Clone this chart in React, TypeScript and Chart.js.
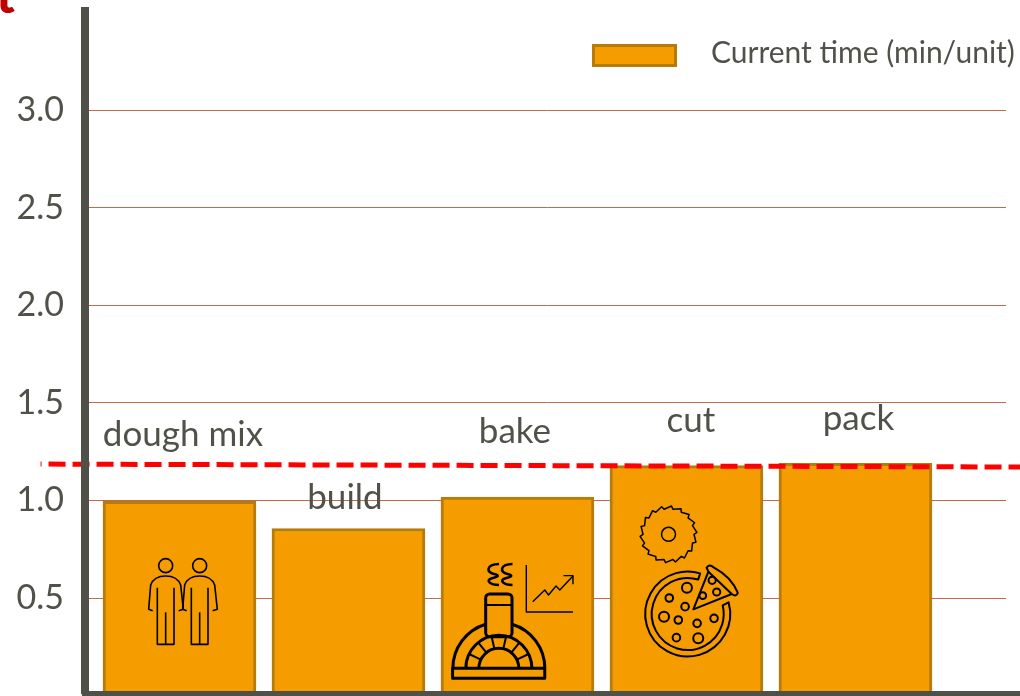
import React, { useEffect, useRef } from "react";
import { Chart, registerables } from "chart.js";

Chart.register(...registerables);

const categories = ["dough mix", "build", "bake", "cut", "pack"];
const currentTime = [0.995, 0.856, 1.017, 1.178, 1.19];
const yTickValues = [0.5, 1.0, 1.5, 2.0, 2.5, 3.0];
const taktLineX = [-0.822, 4.976];
const taktLineY = [1.186, 1.171];
const seriesLabel = "Current time (min/unit)";

const TEXT = "#50524a";
const AXIS = "#4f5047";
const GRID = "#c4684a";
const BAR = "#f59c00";
const BAR_EDGE = "#b67c0a";
const FONT = "Lato, 'Open Sans', sans-serif";
const labelNudges = [
  { dx: 3.5, dy: -67 },
  { dx: -3.5, dy: -31 },
  { dx: -2.5, dy: -65 },
  { dx: 4.5, dy: -45 },
  { dx: 3, dy: -45 },
];

// zoomed-crop coordinates for the second crop region → page pixels
const zx = (x: number) => 430 + x / 2.658;
const zy = (y: number) => 400 + y / 3;

function circle(ctx: CanvasRenderingContext2D, x: number, y: number, r: number) {
  ctx.beginPath();
  ctx.arc(x, y, r, 0, Math.PI * 2);
  ctx.stroke();
}
function poly(ctx: CanvasRenderingContext2D, pts: number[][]) {
  ctx.beginPath();
  pts.forEach((p, i) => (i ? ctx.lineTo(p[0], p[1]) : ctx.moveTo(p[0], p[1])));
  ctx.stroke();
}

function drawPerson(ctx: CanvasRenderingContext2D, dx: number) {
  const k = (x: number, y: number) => [(x + dx) / 3, 400 + y / 3];
  const head = k(497, 497);
  circle(ctx, head[0], head[1], 7);
  ctx.beginPath();
  const a = k(458, 632), b = k(446, 628), c = k(452, 555), d = k(497, 528), e = k(542, 555), f = k(550, 628), g = k(536, 632);
  ctx.moveTo(a[0], a[1]);
  ctx.lineTo(b[0], b[1]);
  ctx.lineTo(c[0], c[1]);
  ctx.quadraticCurveTo(k(462, 528)[0], k(462, 528)[1], d[0], d[1]);
  ctx.quadraticCurveTo(k(532, 528)[0], k(532, 528)[1], e[0], e[1]);
  ctx.lineTo(f[0], f[1]);
  ctx.lineTo(g[0], g[1]);
  ctx.stroke();
  poly(ctx, [k(472, 563), k(472, 733), k(522, 733), k(522, 563)]);
  poly(ctx, [k(497, 637), k(497, 733)]);
}

function drawOven(ctx: CanvasRenderingContext2D) {
  const cx = zx(183), cy = zy(805);
  ctx.lineWidth = 3;
  ctx.strokeRect(zx(60), zy(805), zx(305) - zx(60), zy(835) - zy(805));
  const chimL = zx(148), chimR = zx(218);
  // dome, either side of the chimney
  const R = 46;
  ctx.beginPath();
  ctx.arc(cx, cy, R, Math.PI, Math.PI + (Math.PI / 2 - Math.asin((cx - chimL) / R)));
  ctx.stroke();
  ctx.beginPath();
  ctx.arc(cx, cy, R, -(Math.PI / 2 - Math.asin((chimR - cx) / R)), 0);
  ctx.stroke();
  ctx.beginPath();
  ctx.roundRect(chimL, zy(582), chimR - chimL, zy(710) - zy(582), 4);
  ctx.stroke();
  ctx.lineWidth = 2;
  poly(ctx, [[chimL, zy(615)], [chimR, zy(615)]]);
  ctx.lineWidth = 3;
  ctx.beginPath();
  ctx.arc(cx, cy, 33, Math.PI, 0);
  ctx.stroke();
  ctx.beginPath();
  ctx.arc(cx, cy, 20, Math.PI, 0);
  ctx.stroke();
  ctx.lineWidth = 2;
  for (let i = 1; i <= 6; i++) {
    const t = Math.PI + (i * Math.PI) / 7;
    poly(ctx, [
      [cx + 20 * Math.cos(t), cy + 20 * Math.sin(t)],
      [cx + 33 * Math.cos(t), cy + 33 * Math.sin(t)],
    ]);
  }
  // steam
  ctx.lineWidth = 2.6;
  [494, 507.5].forEach((x) => {
    ctx.beginPath();
    ctx.moveTo(x + 5, zy(492));
    ctx.bezierCurveTo(x - 8, zy(493), x - 8, zy(517), x, zy(522));
    ctx.bezierCurveTo(x + 8, zy(527), x + 1, zy(533), x - 2, zy(535));
    ctx.bezierCurveTo(x - 9, zy(541), x - 4, zy(555), x + 5, zy(555));
    ctx.stroke();
  });
  // rising-trend chart
  ctx.lineWidth = 1.4;
  poly(ctx, [[zx(256), zy(495)], [zx(256), zy(636)], [zx(380), zy(636)]]);
  poly(ctx, [
    [zx(273), zy(605)], [zx(305), zy(570)], [zx(315), zy(585)], [zx(335), zy(558)],
    [zx(345), zy(570)], [zx(380), zy(528)],
  ]);
  poly(ctx, [[zx(355), zy(527)], [zx(380), zy(527)], [zx(380), zy(553)]]);
}

function drawSaw(ctx: CanvasRenderingContext2D) {
  const cx = zx(634), cy = zy(403);
  ctx.lineWidth = 1.5;
  circle(ctx, cx, cy, 7);
  ctx.beginPath();
  const teeth = 18;
  for (let i = 0; i < teeth; i++) {
    const t0 = (i / teeth) * Math.PI * 2;
    const t1 = ((i + 0.8) / teeth) * Math.PI * 2;
    const a = [cx + 25.5 * Math.cos(t0), cy + 25.5 * Math.sin(t0)];
    const b = [cx + 28.5 * Math.cos(t1), cy + 28.5 * Math.sin(t1)];
    if (i === 0) ctx.moveTo(a[0], a[1]);
    else ctx.lineTo(a[0], a[1]);
    ctx.lineTo(b[0], b[1]);
  }
  ctx.closePath();
  ctx.stroke();
}

function drawPizza(ctx: CanvasRenderingContext2D) {
  const cx = zx(685), cy = zy(642);
  const deg = Math.PI / 180;
  ctx.lineWidth = 2;
  ctx.beginPath();
  ctx.arc(cx, cy, 42.5, -16 * deg, -73 * deg);
  ctx.arc(cx, cy, 36, -73 * deg, -14 * deg, true);
  ctx.closePath();
  ctx.stroke();
  // slice
  ctx.beginPath();
  ctx.moveTo(zx(700), zy(628));
  ctx.lineTo(zx(740), zy(515));
  ctx.lineTo(zx(735), zy(503));
  ctx.quadraticCurveTo(zx(742), zy(490), zx(755), zy(503));
  ctx.quadraticCurveTo(zx(800), zy(530), zx(818), zy(578));
  ctx.quadraticCurveTo(zx(815), zy(592), zx(802), zy(582));
  ctx.closePath();
  ctx.stroke();
  poly(ctx, [[zx(740), zy(515)], [zx(802), zy(582)]]);
  const spots = [
    [683, 563, 5], [636, 594, 3.8], [678, 620, 3.8], [622, 650, 5], [660, 660, 3.8],
    [710, 670, 3.8], [755, 655, 3.8], [655, 713, 3.8], [713, 715, 5],
    [750, 541, 3.6], [762, 576, 3.6], [725, 587, 3.4],
  ];
  spots.forEach(([x, y, r]) => circle(ctx, zx(x), zy(y), r));
}

const decorations = {
  id: "decorations",
  afterDatasetsDraw(chart: any) {
    const { ctx } = chart;
    const area = chart.chartArea;
    const xs = chart.scales.x;
    const ys = chart.scales.y;
    ctx.save();
    // baseline continues to the page edge, and squares off the corner
    ctx.fillStyle = AXIS;
    ctx.fillRect(area.left - 3, 691, 1023 - area.left, 5);

    // category names
    ctx.fillStyle = TEXT;
    ctx.font = `35px ${FONT}`;
    ctx.textAlign = "center";
    ctx.textBaseline = "middle";
    categories.forEach((name, i) => {
      const n = labelNudges[i];
      ctx.fillText(name, xs.getPixelForValue(i) + n.dx, ys.getPixelForValue(currentTime[i]) + n.dy);
    });

    // legend
    const label = chart.data.datasets[0].label;
    ctx.fillStyle = BAR;
    ctx.strokeStyle = BAR_EDGE;
    ctx.lineWidth = 3;
    ctx.fillRect(592, 44, 85, 23);
    ctx.strokeRect(593.5, 45.5, 82, 20);
    ctx.fillStyle = TEXT;
    ctx.font = `30px ${FONT}`;
    ctx.textAlign = "left";
    ctx.fillText(label, 711, 53);

    // clipped heading letter
    ctx.fillStyle = "#c00000";
    ctx.font = `900 50px ${FONT}`;
    ctx.textBaseline = "alphabetic";
    ctx.fillText("t", -4, 13);

    // process icons
    ctx.strokeStyle = "#000000";
    ctx.lineWidth = 1.6;
    ctx.lineJoin = "round";
    drawPerson(ctx, 0);
    drawPerson(ctx, 102);
    drawOven(ctx);
    drawSaw(ctx);
    drawPizza(ctx);
    ctx.restore();
  },
};

const noPadding = (s: any) => {
  s.paddingTop = 0;
  s.paddingBottom = 0;
  s.paddingLeft = 0;
  s.paddingRight = 0;
};

export default function App() {
  const ref = useRef<HTMLCanvasElement>(null);
  useEffect(() => {
    const chart = new Chart(ref.current as HTMLCanvasElement, {
      type: "bar",
      data: {
        datasets: [
          {
            label: seriesLabel,
            data: currentTime.map((y, x) => ({ x, y })),
            backgroundColor: BAR,
            borderColor: BAR_EDGE,
            borderWidth: 3,
            barThickness: 153,
            order: 2,
          },
          {
            type: "line",
            label: "Takt time",
            data: taktLineX.map((x, i) => ({ x, y: taktLineY[i] })),
            borderColor: "#ff0000",
            borderWidth: 5,
            borderDash: [17, 7],
            borderDashOffset: 16,
            pointRadius: 0,
            clip: false,
            order: 1,
          },
        ],
      } as any,
      plugins: [decorations],
      options: {
        responsive: false,
        animation: false,
        layout: { padding: { top: 11, bottom: 3, right: 14, left: 0 } },
        plugins: { legend: { display: false }, tooltip: { enabled: false } },
        scales: {
          x: {
            type: "linear",
            min: -0.559,
            max: 4.891,
            offset: false,
            grid: { display: false },
            ticks: { display: false },
            border: { display: false },
            afterFit: (s: any) => { s.height = 0; noPadding(s); },
          },
          y: {
            type: "linear",
            min: 0.0133,
            max: 3.5073,
            grid: { color: GRID, lineWidth: 1, drawTicks: false },
            border: { display: true, color: AXIS, width: 8, z: 1 },
            afterBuildTicks: (s: any) => { s.ticks = yTickValues.map((value) => ({ value })); },
            afterFit: (s: any) => { s.width = 85; noPadding(s); },
            ticks: {
              color: TEXT,
              font: { family: FONT, size: 34 },
              padding: 21,
              callback: (v: any) => Number(v).toFixed(1),
            },
          },
        },
      } as any,
    });
    return () => chart.destroy();
  }, []);
  return (
    <div style={{ position: "absolute", left: 0, top: 0, width: 1020, height: 696, overflow: "hidden", background: "#fff" }}>
      <canvas ref={ref} width={1020} height={696} style={{ display: "block" }} />
    </div>
  );
}
